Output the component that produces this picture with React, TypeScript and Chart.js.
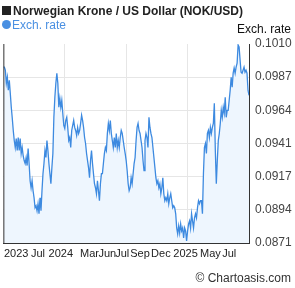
import React, { useEffect, useRef } from "react";
import { Chart, registerables } from "chart.js";

Chart.register(...registerables);

const titleText = "Norwegian Krone / US Dollar (NOK/USD)";
const seriesName = "Exch. rate";
const axisTitle = "Exch. rate";
const copyright = "© Chartoasis.com";

const rates: number[] = [
  0.09939, 0.09939, 0.09917, 0.09826, 0.09868, 0.09777, 0.09847, 0.09756, 0.09658, 0.09581,
  0.09496, 0.09426, 0.09377, 0.0944, 0.09356, 0.09447, 0.09356, 0.0944, 0.09335, 0.09377,
  0.09321, 0.09286, 0.09265, 0.09307, 0.09251, 0.0937, 0.09265, 0.09145, 0.09096, 0.09145,
  0.09075, 0.09026, 0.08956, 0.0897, 0.08935, 0.08984, 0.08914, 0.09026, 0.08935, 0.09075,
  0.09194, 0.09265, 0.09356, 0.09307, 0.09426, 0.09356, 0.09265, 0.09194, 0.09124, 0.09237,
  0.09335, 0.09588, 0.09728, 0.09826, 0.09896, 0.09826, 0.09658, 0.09721, 0.09658, 0.09707,
  0.09616, 0.09531, 0.0951, 0.09566, 0.09588, 0.09517, 0.09426, 0.09447, 0.09377, 0.09496,
  0.09531, 0.09566, 0.09517, 0.09496, 0.09461, 0.09517, 0.09475, 0.09496, 0.09545, 0.09602,
  0.09566, 0.09517, 0.09447, 0.09405, 0.09335, 0.09286, 0.09237, 0.09166, 0.09286, 0.09356,
  0.09265, 0.09194, 0.09124, 0.09096, 0.09054, 0.09145, 0.09075, 0.09005, 0.09124, 0.09194,
  0.09194, 0.09265, 0.09335, 0.09377, 0.09356, 0.09475, 0.09545, 0.09496, 0.09566, 0.09475,
  0.09426, 0.09377, 0.09447, 0.09377, 0.09475, 0.09377, 0.09426, 0.09377, 0.09447, 0.09496,
  0.09475, 0.09426, 0.09377, 0.09335, 0.09286, 0.09215, 0.09124, 0.09075, 0.09096, 0.09166,
  0.09124, 0.09194, 0.09265, 0.09307, 0.09426, 0.09517, 0.09545, 0.09496, 0.09475, 0.09426,
  0.09377, 0.09286, 0.09215, 0.09426, 0.09475, 0.09447, 0.09377, 0.09588, 0.09517, 0.09475,
  0.09447, 0.09377, 0.09307, 0.09237, 0.09166, 0.09124, 0.09145, 0.09096, 0.09124, 0.09054,
  0.09096, 0.09166, 0.09054, 0.09005, 0.09026, 0.09005, 0.09054, 0.08984, 0.09026, 0.09054,
  0.09005, 0.08956, 0.0897, 0.08956, 0.08914, 0.08815, 0.08773, 0.08829, 0.0878, 0.08843,
  0.08794, 0.08815, 0.08745, 0.08815, 0.08794, 0.08724, 0.08794, 0.08843, 0.08864, 0.08815,
  0.08914, 0.08864, 0.08815, 0.08886, 0.08914, 0.08886, 0.08956, 0.09005, 0.08984, 0.09005,
  0.09005, 0.08914, 0.09194, 0.09377, 0.09405, 0.09335, 0.09475, 0.09496, 0.09447, 0.09517,
  0.09475, 0.09517, 0.09545, 0.09686, 0.09356, 0.09124, 0.09286, 0.09426, 0.09475, 0.09545,
  0.09637, 0.09588, 0.09658, 0.09616, 0.09728, 0.09588, 0.09637, 0.09637, 0.09707, 0.09777,
  0.09868, 0.09798, 0.09896, 0.09932, 0.09896, 0.09939, 0.09967, 0.10093, 0.10079, 0.09988,
  0.09903, 0.09896, 0.09917, 0.09939, 0.09903, 0.09917, 0.09896, 0.09777, 0.09742,
];

const xTickLabels = ["2023", "Jul", "2024", "Mar", "Jun", "Jul", "Sep", "Dec", "2025", "May", "Jul"];
const xTickIndex = [13, 35, 58, 87, 105, 120, 138, 159, 184, 209, 228];
const xGridIndex = [62, 124, 186];

const yTickValues = [0.0871, 0.089417, 0.091733, 0.09405, 0.096367, 0.098683, 0.101];
const yTickLabels = ["0.0871", "0.0894", "0.0917", "0.0941", "0.0964", "0.0987", "0.1010"];

const FONT = "'Liberation Sans', Arial, sans-serif";
const LINE = "#3d8ae0";
const LEGEND_BLUE = "#4a90e2";

const decorPlugin = {
  id: "decor",
  afterDraw(chart: any) {
    const ctx = chart.ctx;
    const a = chart.chartArea;
    ctx.save();
    ctx.strokeStyle = "#333";
    ctx.lineWidth = 1;
    ctx.beginPath();
    ctx.moveTo(a.left + 0.5, a.top);
    ctx.lineTo(a.left + 0.5, a.bottom);
    ctx.stroke();
    ctx.fillStyle = "#222";
    ctx.fillRect(2, 6, 9, 9);
    ctx.font = `bold 12px ${FONT}`;
    ctx.textAlign = "left";
    ctx.textBaseline = "alphabetic";
    ctx.fillText(titleText, 13, 15);
    ctx.fillStyle = LEGEND_BLUE;
    ctx.beginPath();
    ctx.arc(6.5, 24.5, 4.5, 0, Math.PI * 2);
    ctx.fill();
    ctx.font = `12px ${FONT}`;
    ctx.fillText(seriesName, 12, 29);
    ctx.fillStyle = "#111";
    ctx.textAlign = "right";
    ctx.fillText(axisTitle, 291, 33);
    ctx.fillStyle = "#333";
    ctx.fillText(copyright, 291, 282);
    ctx.restore();
  },
};

export default function App() {
  const ref = useRef<HTMLCanvasElement>(null);
  useEffect(() => {
    const canvas = ref.current;
    if (!canvas) return;
    const chart = new Chart(canvas, {
      type: "line",
      data: {
        datasets: [
          {
            label: seriesName,
            data: rates.map((v, i) => ({ x: i, y: v })),
            borderColor: LINE,
            borderWidth: 1.3,
            backgroundColor: "#eef6fe",
            fill: "start",
            pointRadius: 0,
            tension: 0,
          },
        ],
      },
      options: {
        animation: false,
        responsive: false,
        devicePixelRatio: 1,
        layout: { padding: { top: 44, left: 0, right: 0, bottom: 0 } },
        plugins: { legend: { display: false }, title: { display: false }, tooltip: { enabled: false } },
        scales: {
          x: {
            type: "linear",
            min: 0,
            max: rates.length - 1,
            afterBuildTicks: (scale: any) => {
              scale.ticks = [...xTickIndex, ...xGridIndex].map((v) => ({ value: v }));
            },
            afterFit: (scale: any) => {
              scale.height = 45;
            },
            ticks: {
              autoSkip: false,
              maxRotation: 0,
              padding: 4,
              color: "#222",
              font: { family: FONT, size: 11 },
              callback: (value: any) => {
                const k = xTickIndex.indexOf(value);
                return k >= 0 ? xTickLabels[k] : "";
              },
            },
            grid: {
              drawTicks: false,
              color: (c: any) => (c.tick && xGridIndex.includes(c.tick.value) ? "#e6e6e6" : "rgba(0,0,0,0)"),
            },
            border: { display: true, color: "#333", width: 1 },
          },
          y: {
            position: "right",
            min: 0.0871,
            max: 0.101,
            afterBuildTicks: (scale: any) => {
              scale.ticks = yTickValues.map((v) => ({ value: v }));
            },
            afterFit: (scale: any) => {
              scale.width = 46;
            },
            ticks: {
              padding: 6,
              color: "#444",
              font: { family: FONT, size: 12 },
              callback: (_v: any, i: number) => yTickLabels[i],
            },
            grid: {
              drawTicks: false,
              color: (c: any) => (c.index === 0 || c.index === yTickValues.length - 1 ? "rgba(0,0,0,0)" : "#e6e6e6"),
            },
            border: { display: true, color: "#333", width: 1 },
          },
        },
      },
      plugins: [decorPlugin],
    } as any);
    return () => chart.destroy();
  }, []);
  return (
    <div style={{ position: "absolute", left: 0, top: 0, width: 295, height: 288, background: "#fff" }}>
      <canvas ref={ref} width={295} height={288} style={{ width: 295, height: 288, display: "block" }} />
    </div>
  );
}
